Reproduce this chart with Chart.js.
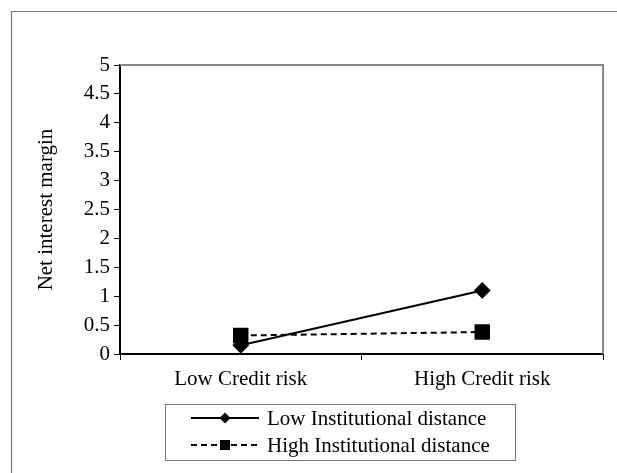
<!DOCTYPE html>
<html><head><meta charset="utf-8">
<script src="https://cdn.jsdelivr.net/npm/chart.js@4"></script>
<style>html,body{margin:0;padding:0;background:#fff;}#wrap{width:617px;height:473px;position:relative;}</style>
</head><body><div id="wrap"><canvas id="c" width="617" height="473"></canvas></div>
<script>
const categories = ["Low Credit risk", "High Credit risk"];
const lowInstitutional = [0.15, 1.1];
const highInstitutional = [0.32, 0.38];
const seriesNames = ["Low Institutional distance", "High Institutional distance"];
const yTicks = [0, 0.5, 1, 1.5, 2, 2.5, 3, 3.5, 4, 4.5, 5];

const FONT = "'Liberation Serif', 'Times New Roman', serif";
const FSIZE = 21;

const framePlugin = {
  id: 'frame',
  beforeDraw(chart) {
    const ctx = chart.ctx;
    ctx.save();
    ctx.fillStyle = '#fff';
    ctx.fillRect(0, 0, chart.width, chart.height);
    ctx.strokeStyle = '#777';
    ctx.lineWidth = 1.2;
    ctx.beginPath();
    ctx.moveTo(11.5, chart.height + 2); ctx.lineTo(11.5, 11.5); ctx.lineTo(chart.width + 2, 11.5);
    ctx.stroke();
    ctx.restore();
  },
  beforeDatasetsDraw(chart) {
    const ctx = chart.ctx, a = chart.chartArea;
    ctx.save();
    ctx.strokeStyle = '#888';
    ctx.lineWidth = 2;
    ctx.beginPath();
    ctx.moveTo(a.left, a.top); ctx.lineTo(a.right, a.top); ctx.lineTo(a.right, a.bottom);
    ctx.stroke();
    ctx.restore();
  },
  afterDraw(chart) {
    // legend (series names from data)
    const ctx = chart.ctx;
    const box = { l: 165.5, t: 404.5, r: 515.5, b: 460.5 };
    ctx.save();
    ctx.strokeStyle = '#777'; ctx.lineWidth = 1;
    ctx.strokeRect(box.l, box.t, box.r - box.l, box.b - box.t);
    const rows = [418, 445];
    chart.data.datasets.forEach((ds, i) => {
      const y = rows[i];
      ctx.strokeStyle = '#000'; ctx.fillStyle = '#000'; ctx.lineWidth = 2;
      ctx.setLineDash(ds.borderDash || []);
      ctx.beginPath(); ctx.moveTo(191, y); ctx.lineTo(259, y); ctx.stroke();
      ctx.setLineDash([]);
      if (ds.pointStyle === 'rectRot') {
        ctx.beginPath(); ctx.moveTo(225, y - 5.5); ctx.lineTo(230.5, y); ctx.lineTo(225, y + 5.5); ctx.lineTo(219.5, y); ctx.closePath(); ctx.fill();
      } else {
        ctx.fillRect(220, y - 5, 10, 10);
      }
      ctx.font = FSIZE + 'px ' + FONT;
      ctx.textBaseline = 'middle';
      ctx.textAlign = 'left';
      ctx.fillText(ds.label, 267, y + 1);
    });
    ctx.restore();
  }
};

new Chart(document.getElementById('c'), {
  type: 'line',
  data: {
    labels: categories,
    datasets: [
      { label: seriesNames[0], data: lowInstitutional, borderColor: '#000', backgroundColor: '#000', borderWidth: 2,
        pointStyle: 'rectRot', pointRadius: 7, pointHoverRadius: 7, tension: 0, fill: false },
      { label: seriesNames[1], data: highInstitutional, borderColor: '#000', backgroundColor: '#000', borderWidth: 2,
        borderDash: [6, 4], pointStyle: 'rect', pointRadius: 9.5, pointHoverRadius: 9.5, tension: 0, fill: false }
    ]
  },
  options: {
    responsive: false,
    animation: false,
    devicePixelRatio: 1,
    layout: { padding: { left: 12, right: 14, top: 65, bottom: 73 } },
    plugins: {
      tooltip: { enabled: false },
      legend: { display: false }
    },
    scales: {
      x: {
        offset: true,
        afterFit(scale) { scale.height = 46; },
        grid: { offset: true, drawOnChartArea: false, color: '#000', tickLength: 6, tickWidth: 1 },
        border: { color: '#000', width: 2 },
        ticks: { color: '#000', font: { family: FONT, size: FSIZE }, padding: 7, maxRotation: 0 }
      },
      y: {
        min: 0, max: 5,
        afterBuildTicks(scale) { scale.ticks = yTicks.map(v => ({ value: v })); },
        afterFit(scale) { scale.width = 108; },
        grid: { drawOnChartArea: false, color: '#000', tickLength: 6 },
        border: { color: '#000', width: 2 },
        ticks: { color: '#000', font: { family: FONT, size: FSIZE }, padding: 4, callback: v => String(v) },
        title: { display: true, text: 'Net interest margin', color: '#000', font: { family: FONT, size: FSIZE }, padding: { top: 22, bottom: 0 } }
      }
    }
  },
  plugins: [framePlugin]
});
</script></body></html>
